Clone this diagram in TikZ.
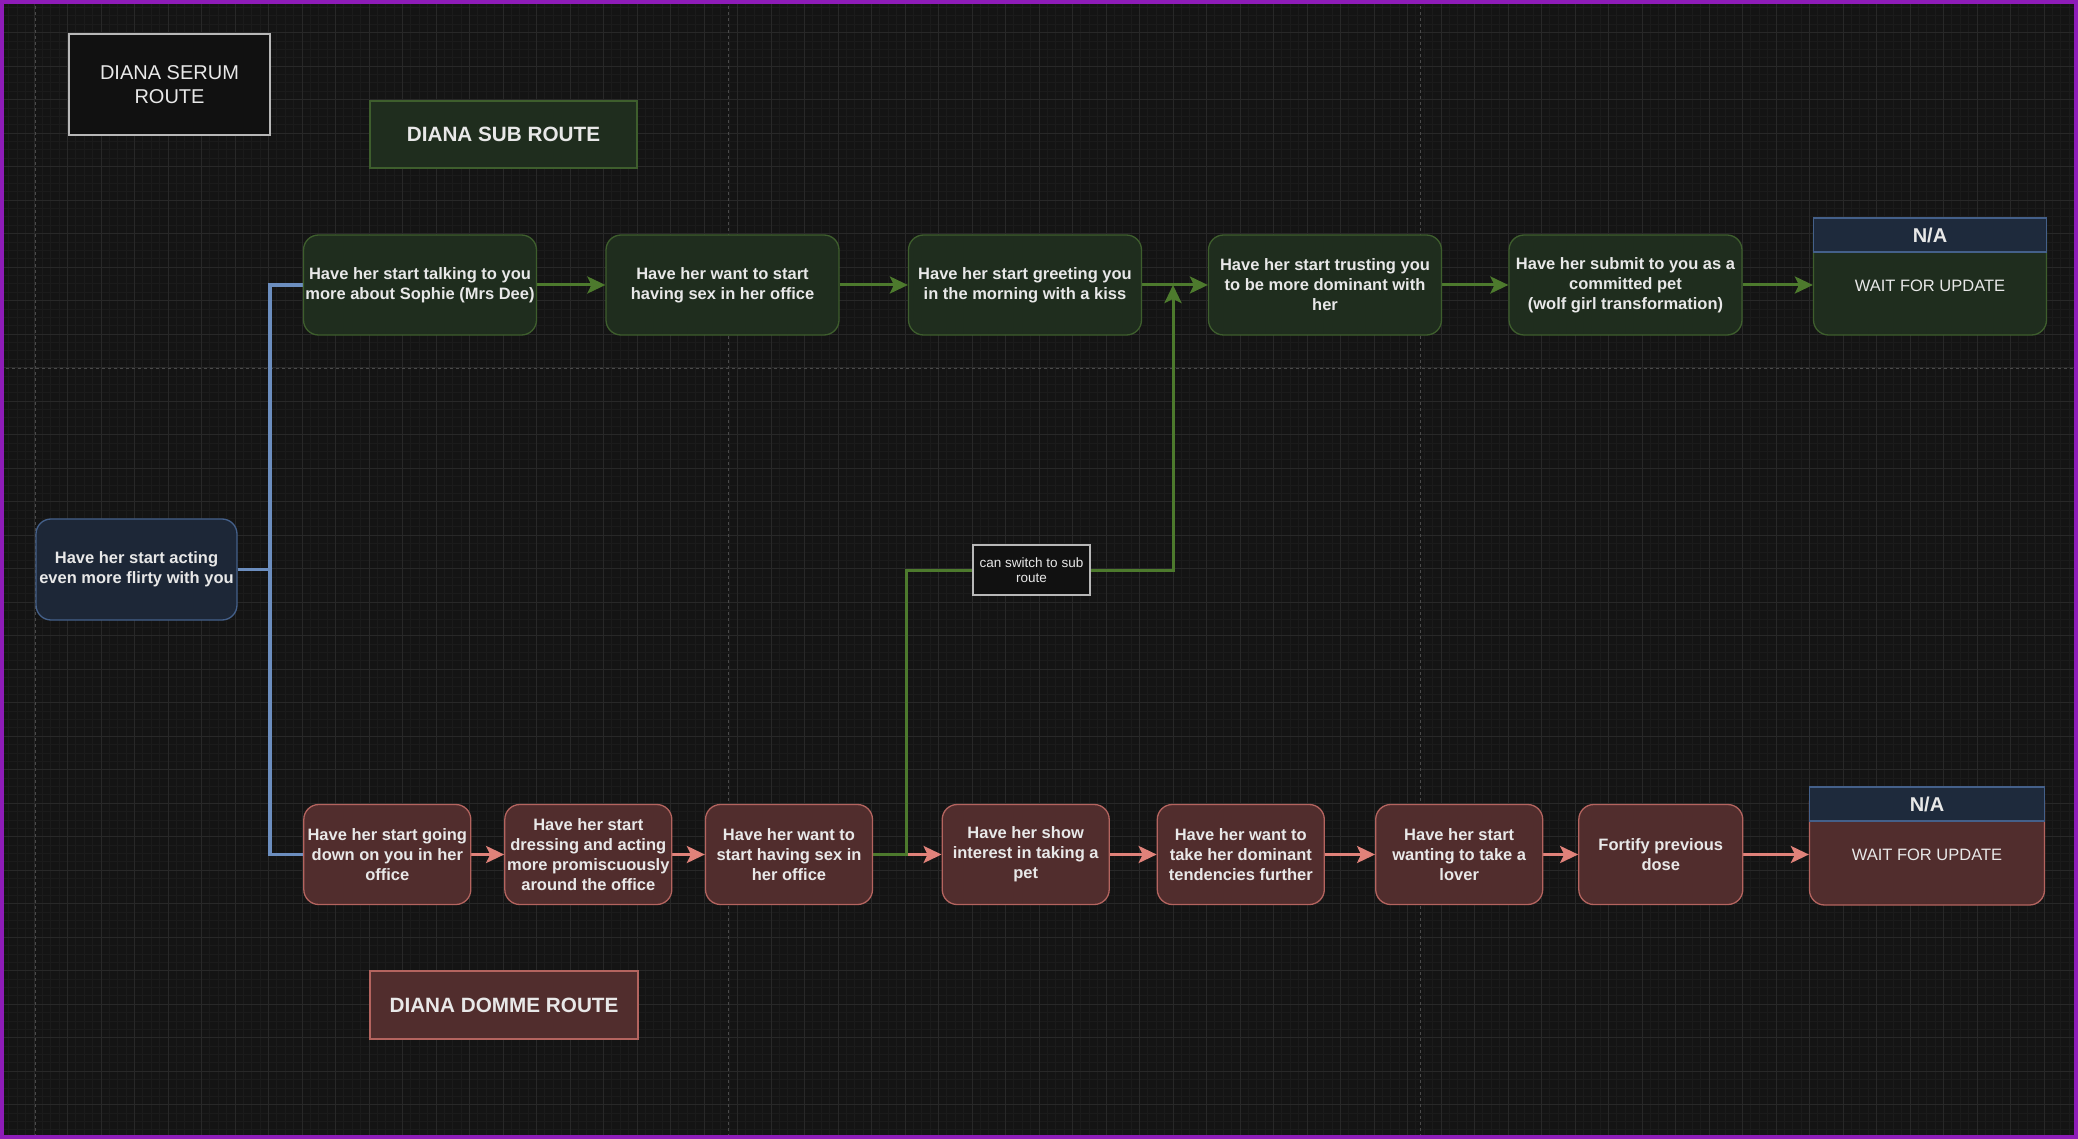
\documentclass[tikz,border=0pt]{standalone}
\usepackage{fontspec}
\setmainfont{Liberation Sans}
\usetikzlibrary{arrows.meta}
\pgfdeclarelayer{bg}
\pgfdeclarelayer{edges}
\pgfsetlayers{bg,edges,main}
\definecolor{bgc}{HTML}{141414}
\definecolor{gridmin}{HTML}{1B1B1B}
\definecolor{gridmaj}{HTML}{282828}
\definecolor{pagec}{HTML}{4A4A4A}
\definecolor{framec}{HTML}{8E1CB8}
\definecolor{txtc}{HTML}{E8E8E8}
\definecolor{gfill}{HTML}{1F2D1E}
\definecolor{gstroke}{HTML}{3E5E2D}
\definecolor{glinec}{HTML}{4D7A2D}
\definecolor{pfill}{HTML}{512D2D}
\definecolor{pstroke}{HTML}{B4645F}
\definecolor{plinec}{HTML}{E0827A}
\definecolor{nfill}{HTML}{1D2737}
\definecolor{nstroke}{HTML}{44608A}
\definecolor{blinec}{HTML}{6C8EBF}
\definecolor{hfill}{HTML}{1E2A3C}
\definecolor{dfill}{HTML}{111111}
\definecolor{dstroke}{HTML}{B8B8B8}
\tikzset{
  box/.style={rounded corners=15pt, line width=1.3pt, text=txtc, align=center, inner sep=0pt,
    font=\fontsize{16.5}{20}\selectfont\bfseries},
  gbox/.style={box, fill=gfill, draw=gstroke, minimum width=233pt, minimum height=100pt},
  pbox/.style={box, fill=pfill, draw=pstroke, minimum width=167pt, minimum height=100pt},
  nbox/.style={box, fill=nfill, draw=nstroke, minimum width=201pt, minimum height=101pt},
  hdr/.style={fill=hfill, draw=nstroke, line width=1.3pt, text=txtc, inner sep=0pt,
    font=\fontsize{20}{24}\selectfont\bfseries, anchor=north, minimum height=34pt},
  waittxt/.style={text=txtc, inner sep=0pt, font=\fontsize{16.5}{20}\selectfont},
  titlebox/.style={line width=1.3pt, text=txtc, inner sep=0pt, align=center,
    font=\fontsize{20.7}{25}\selectfont\bfseries},
  lbl/.style={fill=dfill, draw=dstroke, line width=1.2pt, text=txtc, inner sep=0pt, align=center,
    minimum width=117pt, minimum height=50pt, font=\fontsize{13.5}{15.5}\selectfont},
  tip/.style={-{Stealth[length=18pt,width=17pt,inset=4pt]}},
  garr/.style={draw=glinec, line width=3pt, tip},
  parr/.style={draw=plinec, line width=3pt, tip},
  gpath/.style={draw=glinec, line width=3pt},
  barr/.style={draw=blinec, line width=3.3pt},
}
\begin{document}
\begin{tikzpicture}[x=1pt,y=-1pt]
\useasboundingbox (0,0) rectangle (2078,1139);
\begin{pgfonlayer}{bg}
\fill[bgc] (0,0) rectangle (2078,1139);
\foreach \i in {0,...,248} {\draw[gridmin, line width=0.9pt] ({0.5+\i*8.375},0) -- ++(0,1139);}
\foreach \i in {0,...,135} {\draw[gridmin, line width=0.9pt] (0,{7.575+\i*8.375}) -- ++(2078,0);}
\foreach \i in {0,...,62} {\draw[gridmaj, line width=1pt] ({0.5+\i*33.5},0) -- ++(0,1139);}
\foreach \i in {0,...,33} {\draw[gridmaj, line width=1pt] (0,{32.7+\i*33.5}) -- ++(2078,0);}
\foreach \xx in {35,728,1420} {\draw[pagec, line width=1pt, dash pattern=on 3pt off 3pt] (\xx,0) -- (\xx,1139);}
\draw[pagec, line width=1pt, dash pattern=on 3pt off 3pt] (0,369) -- (2078,369);
\end{pgfonlayer}

% titles
\node[titlebox, fill=dfill, draw=dstroke, minimum width=201pt, minimum height=101pt,
  font=\fontsize{20}{24.5}\selectfont] (serum) at (169.5,84.5) {DIANA SERUM\\ROUTE};
\node[titlebox, fill=gfill, draw=gstroke, minimum width=267pt, minimum height=67pt] (subt) at (503.5,134.5) {DIANA SUB ROUTE};
\node[titlebox, fill=pfill, draw=pstroke, minimum width=268pt, minimum height=68pt] (domt) at (504,1005) {DIANA DOMME ROUTE};

% start
\node[nbox] (start) at (136.5,569.5) {Have her start acting\\even more flirty with you};

% sub route
\node[gbox] (S1) at (420,285) {Have her start talking to you\\more about Sophie (Mrs Dee)};
\node[gbox] (S2) at (722.5,285) {Have her want to start\\having sex in her office};
\node[gbox] (S3) at (1025,285) {Have her start greeting you\\in the morning with a kiss};
\node[gbox] (S4) at (1325,285) {Have her start trusting you\\to be more dominant with\\her};
\node[gbox] (S5) at (1625.5,285) {Have her submit to you as a\\committed pet\\(wolf girl transformation)};
\node[gbox, minimum height=117pt] (S6) at (1930,276.5) {};
\node[hdr, minimum width=233pt] (S6h) at (S6.north) {N/A};
\node[waittxt] (S6t) at (1930,286) {WAIT FOR UPDATE};

% domme route
\node[pbox] (D1) at (387.3,854.5) {Have her start going\\down on you in her\\office};
\node[pbox] (D2) at (588.3,854.5) {Have her start\\dressing and acting\\more promiscuously\\around the office};
\node[pbox] (D3) at (789,854.5) {Have her want to\\start having sex in\\her office};
\node[pbox] (D4) at (1025.7,854.5) {Have her show\\interest in taking a\\pet};
\node[pbox] (D5) at (1240.8,854.5) {Have her want to\\take her dominant\\tendencies further};
\node[pbox] (D6) at (1459.2,854.5) {Have her start\\wanting to take a\\lover};
\node[pbox, minimum width=164pt] (D7) at (1660.8,854.5) {Fortify previous\\dose};
\node[pbox, minimum width=235pt, minimum height=118pt] (D8) at (1927,846) {};
\node[hdr, minimum width=235pt] (D8h) at (D8.north) {N/A};
\node[waittxt] (D8t) at (1927,855) {WAIT FOR UPDATE};

% switch label
\node[lbl] (sw) at (1031.5,570) {can switch to sub\\route};
\coordinate (J) at (1173,285);
\coordinate (B) at (270,569.5);

\begin{pgfonlayer}{edges}
\draw[barr] (start.east) -- (B) |- (S1.west);
\draw[barr] (B) |- (D1.west);
\draw[garr] (S1.east) -- (S2.west);
\draw[garr] (S2.east) -- (S3.west);
\draw[garr] (S3.east) -- (S4.west);
\draw[garr] (S4.east) -- (S5.west);
\draw[garr] (S5.east) -- (S5.east -| S6.west);
\draw[parr] (D1.east) -- (D2.west);
\draw[parr] (D2.east) -- (D3.west);
\draw[parr] (D3.east) -- (D4.west);
\draw[parr] (D4.east) -- (D5.west);
\draw[parr] (D5.east) -- (D6.west);
\draw[parr] (D6.east) -- (D7.west);
\draw[parr] (D7.east) -- (D7.east -| D8.west);
\draw[garr] (D3.east) -- ++(33.5,0) |- (sw) -| (J);
\end{pgfonlayer}

\draw[framec, line width=4pt] (2,2) rectangle (2076,1137);
\end{tikzpicture}
\end{document}
